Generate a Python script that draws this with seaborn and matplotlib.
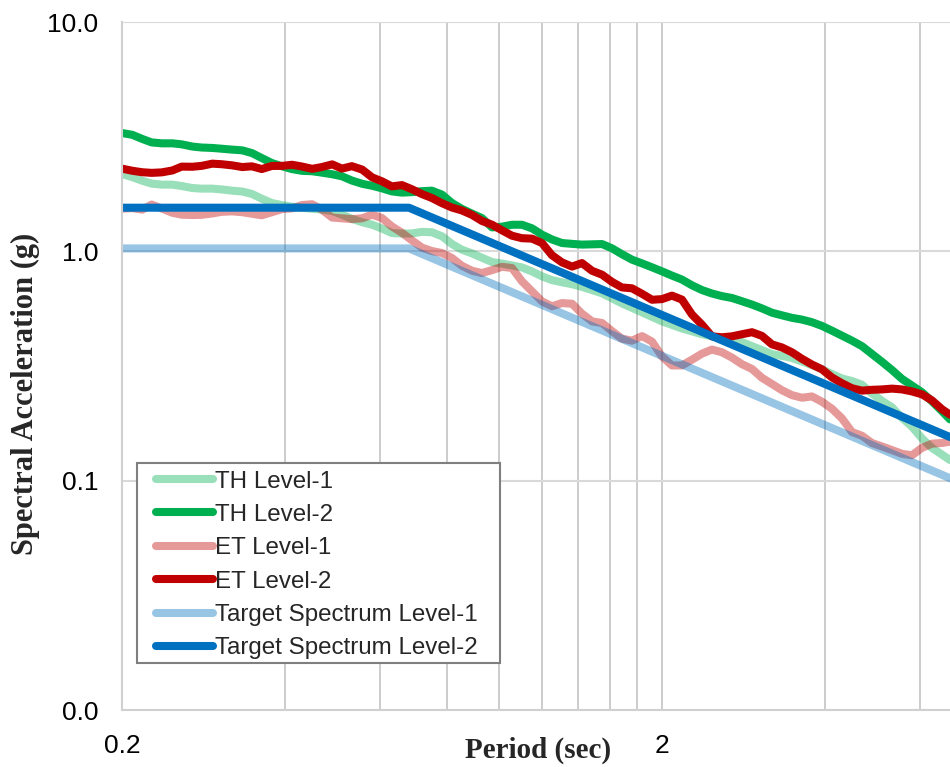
import matplotlib
matplotlib.use("Agg")
import matplotlib.pyplot as plt
from matplotlib.patches import Rectangle
import seaborn as sns

# ========== Datos ==========

periods = [0.200, 0.209, 0.218, 0.227, 0.237, 0.248, 0.258, 0.270, 0.281, 0.294,
           0.306, 0.320, 0.334, 0.348, 0.363, 0.379, 0.396, 0.413, 0.431, 0.450,
           0.469, 0.490, 0.511, 0.533, 0.557, 0.581, 0.606, 0.632, 0.660, 0.689,
           0.719, 0.750, 0.783, 0.817, 0.852, 0.890, 0.928, 0.969, 1.011, 1.055,
           1.101, 1.149, 1.199, 1.251, 1.306, 1.363, 1.422, 1.484, 1.549, 1.616,
           1.686, 1.760, 1.837, 1.917, 2.000, 2.087, 2.178, 2.273, 2.372, 2.475,
           2.583, 2.696, 2.813, 2.936, 3.063, 3.197, 3.336, 3.481, 3.633, 3.791,
           3.956, 4.128, 4.308, 4.496, 4.692, 4.896, 5.109, 5.332, 5.564, 5.806,
           6.060, 6.323, 6.599, 6.830]

th_level1 = [2.174, 2.107, 2.032, 1.974, 1.954, 1.954, 1.927, 1.888, 1.877, 1.877,
             1.862, 1.839, 1.823, 1.780, 1.697, 1.624, 1.590, 1.565, 1.549, 1.534,
             1.520, 1.500, 1.445, 1.386, 1.339, 1.307, 1.257, 1.202, 1.195, 1.197,
             1.216, 1.211, 1.163, 1.076, 1.017, 0.979, 0.938, 0.898, 0.884, 0.868,
             0.851, 0.817, 0.778, 0.749, 0.733, 0.719, 0.700, 0.678, 0.656, 0.624,
             0.593, 0.567, 0.542, 0.518, 0.495, 0.478, 0.461, 0.448, 0.435, 0.426,
             0.417, 0.410, 0.402, 0.386, 0.371, 0.356, 0.350, 0.343, 0.331, 0.319,
             0.306, 0.292, 0.279, 0.272, 0.262, 0.240, 0.223, 0.209, 0.188, 0.172,
             0.153, 0.139, 0.130, 0.123]

th_level2 = [3.281, 3.222, 3.092, 2.985, 2.958, 2.958, 2.928, 2.864, 2.836, 2.824,
             2.802, 2.777, 2.757, 2.683, 2.552, 2.427, 2.348, 2.283, 2.244, 2.235,
             2.204, 2.169, 2.124, 2.036, 1.970, 1.932, 1.883, 1.826, 1.803, 1.812,
             1.830, 1.839, 1.767, 1.624, 1.532, 1.460, 1.397, 1.272, 1.281, 1.306,
             1.306, 1.260, 1.183, 1.127, 1.087, 1.078, 1.070, 1.073, 1.076, 1.031,
             0.972, 0.920, 0.886, 0.852, 0.818, 0.784, 0.753, 0.711, 0.678, 0.655,
             0.638, 0.626, 0.606, 0.586, 0.564, 0.540, 0.526, 0.513, 0.504, 0.491,
             0.473, 0.451, 0.429, 0.408, 0.386, 0.357, 0.330, 0.304, 0.278, 0.260,
             0.243, 0.222, 0.201, 0.185]

et_level1 = [1.535, 1.543, 1.520, 1.600, 1.537, 1.473, 1.445, 1.440, 1.443, 1.463,
             1.487, 1.494, 1.481, 1.459, 1.436, 1.481, 1.529, 1.539, 1.592, 1.605,
             1.520, 1.404, 1.393, 1.382, 1.394, 1.445, 1.397, 1.285, 1.205, 1.115,
             1.038, 1.003, 0.983, 0.935, 0.865, 0.823, 0.804, 0.828, 0.856, 0.846,
             0.740, 0.669, 0.605, 0.576, 0.595, 0.591, 0.535, 0.495, 0.487, 0.449,
             0.416, 0.408, 0.427, 0.404, 0.348, 0.318, 0.318, 0.337, 0.358, 0.373,
             0.363, 0.344, 0.322, 0.307, 0.281, 0.264, 0.248, 0.236, 0.230, 0.233,
             0.221, 0.206, 0.187, 0.163, 0.157, 0.146, 0.141, 0.136, 0.131, 0.129,
             0.139, 0.145, 0.146, 0.148]

et_level2 = [2.295, 2.246, 2.213, 2.199, 2.210, 2.253, 2.341, 2.338, 2.359, 2.412,
             2.398, 2.371, 2.331, 2.348, 2.285, 2.357, 2.359, 2.385, 2.343, 2.290,
             2.331, 2.395, 2.295, 2.352, 2.272, 2.102, 2.020, 1.920, 1.945, 1.864,
             1.776, 1.708, 1.621, 1.552, 1.508, 1.441, 1.357, 1.307, 1.235, 1.170,
             1.141, 1.136, 1.087, 0.962, 0.895, 0.858, 0.889, 0.823, 0.791, 0.736,
             0.696, 0.690, 0.653, 0.615, 0.619, 0.641, 0.616, 0.530, 0.479, 0.426,
             0.422, 0.426, 0.435, 0.444, 0.428, 0.393, 0.381, 0.363, 0.340, 0.321,
             0.306, 0.282, 0.266, 0.253, 0.247, 0.249, 0.250, 0.252, 0.250, 0.245,
             0.238, 0.224, 0.205, 0.194]

target_periods = [0.20, 0.68, 6.83]
target_level1 = [1.03, 1.03, 0.1025]
target_level2 = [1.55, 1.55, 0.155]

series = [
    ("TH Level-1", th_level1, "#00B050", 0.4),
    ("TH Level-2", th_level2, "#00B050", 1.0),
    ("ET Level-1", et_level1, "#C00000", 0.4),
    ("ET Level-2", et_level2, "#C00000", 1.0),
]

x_grid = [0.2, 0.4, 0.6, 0.8, 1.0, 1.2, 1.4, 1.6, 1.8, 2.0, 4.0, 6.0]
x_labels = ["0.2", "", "", "", "", "", "", "", "", "2", "", ""]
y_ticks = [0.01, 0.1, 1.0, 10.0]
y_labels = ["0.0", "0.1", "1.0", "10.0"]

# ========== Grafico ==========

sns.set_theme(style="white")
plt.rcParams["font.family"] = ["Liberation Sans", "DejaVu Sans"]

fig = plt.figure(figsize=(9.5, 7.67), dpi=100)
ax = fig.add_axes([0.1284, 0.0743, 0.8716, 0.897])

lw = 5.8
for name, vals, color, alpha in series:
    sns.lineplot(x=periods, y=vals, ax=ax, color=color, alpha=alpha, lw=lw,
                 label=name, solid_capstyle="round", sort=False, estimator=None)

sns.lineplot(x=target_periods, y=target_level1, ax=ax, color="#0070C0", alpha=0.4,
             lw=lw, label="Target Spectrum Level-1", solid_capstyle="round",
             sort=False, estimator=None)
sns.lineplot(x=target_periods, y=target_level2, ax=ax, color="#0070C0", alpha=1.0,
             lw=lw, label="Target Spectrum Level-2", solid_capstyle="round",
             sort=False, estimator=None)

ax.set_xscale("log")
ax.set_yscale("log")
ax.set_xlim(0.2, 6.83)
ax.set_ylim(0.01, 10)

ax.set_xticks(x_grid)
ax.set_xticklabels(x_labels)
ax.set_yticks(y_ticks)
ax.set_yticklabels(y_labels)
ax.minorticks_off()
ax.tick_params(axis="both", length=0, labelsize=19, colors="black")
ax.tick_params(axis="x", pad=17)
ax.tick_params(axis="y", pad=17)

# grilla tipo Excel
ax.grid(True, axis="x", color="#C8C8C8", lw=1.3)
ax.grid(True, axis="y", color="#D9D9D9", lw=1.5)
for side in ["top", "right"]:
    ax.spines[side].set_visible(False)
for side in ["left", "bottom"]:
    ax.spines[side].set_color("#D0D0D0")
    ax.spines[side].set_linewidth(1.5)

ax.set_xlabel("Period (sec)", fontsize=21, fontweight="bold",
              family="Liberation Serif")
ax.set_ylabel("Spectral Acceleration (g)", fontsize=22, fontweight="bold",
              family="Liberation Serif")
ax.xaxis.label.set_va("center")
ax.yaxis.label.set_va("center")
ax.xaxis.set_label_coords(0.502, -0.058)
ax.yaxis.set_label_coords(-0.117, 0.459)

# marco de la leyenda (mas ancho que alto, como en Excel)
box = Rectangle((0.018, 0.068), 0.438, 0.291, transform=ax.transAxes,
                facecolor="white", edgecolor="#7F7F7F", lw=1.5, zorder=4.9)
ax.add_patch(box)

leg = ax.legend(loc="upper left", bbox_to_anchor=(0.041, 0.348), borderaxespad=0,
                fontsize=17.4, frameon=False, handlelength=2.35,
                handletextpad=0.1, labelspacing=0.47, borderpad=0)
leg.set_zorder(5)

fig.savefig("out.png", dpi=100)
